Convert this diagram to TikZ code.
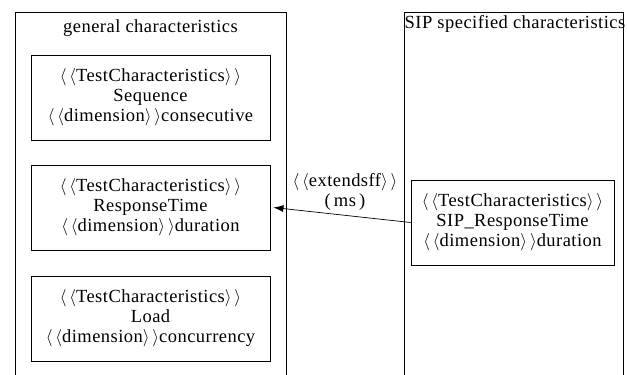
\documentclass[tikz,border=0pt]{standalone}
\usepackage{fontspec}
\setmainfont{Liberation Serif}[LetterSpace=2.5]
\usetikzlibrary{arrows.meta}
\newcommand{\stereo}[1]{$\langle\,\langle$#1$\rangle\,\rangle$}
\newcommand{\umlfont}{\fontsize{18.5}{20}\selectfont}
\begin{document}
\begin{tikzpicture}[x=1pt,y=-1pt,
  panel/.style={draw,line width=0.9pt},
  classbox/.style={draw,line width=0.9pt,minimum width=239pt,minimum height=85pt,
    align=center,inner sep=0pt,font=\umlfont},
  sipbox/.style={classbox,minimum width=203pt},
  title/.style={font=\umlfont,inner sep=0pt},
  label/.style={font=\umlfont,align=center,inner sep=0pt}]
\useasboundingbox (0,0) rectangle (627,375);
% the two containers, open at the bottom
\draw[panel] (15,376) -- (15,12) -- (286,12) -- (286,376);
\draw[panel] (404,376) -- (404,12) -- (623,12) -- (623,376);
\node[title] (gtitle) at (150.5,28) {general characteristics};
\node[title] (stitle) at (515,24) {SIP specified characteristics};
% general characteristics
\node[classbox] (seq) at (150.5,97.5) {\stereo{TestCharacteristics}\\Sequence\\\stereo{dimension}consecutive};
\node[classbox] (resp) at (150.5,207.5) {\stereo{TestCharacteristics}\\ResponseTime\\\stereo{dimension}duration};
\node[classbox] (load) at (150.5,318.5) {\stereo{TestCharacteristics}\\Load\\\stereo{dimension}concurrency};
% SIP specified characteristics
\node[sipbox] (sip) at (512.5,222.5) {\stereo{TestCharacteristics}\\SIP\_ResponseTime\\\stereo{dimension}duration};
% extension relation
\draw[-{Latex[length=10pt,width=7pt]},line width=0.7pt] (sip.west) -- ([xshift=3pt]resp.east);
\node[label] (ext) at (345,192) {\stereo{extendsff}\\(\,ms\,)};
\end{tikzpicture}
\end{document}
